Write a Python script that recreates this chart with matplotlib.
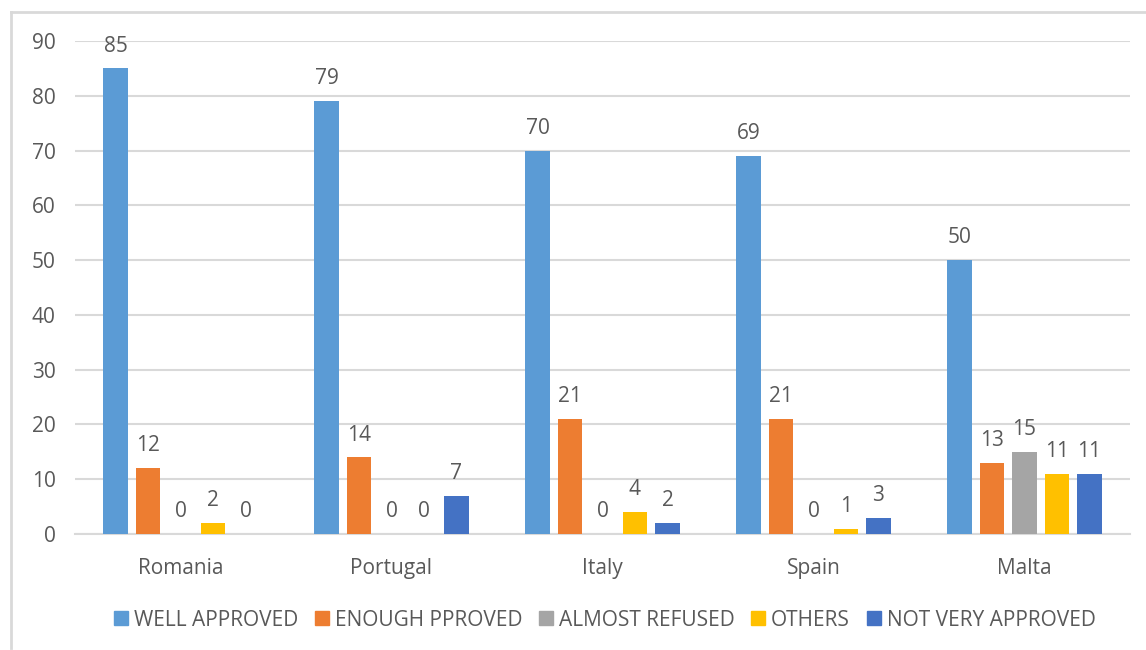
import matplotlib
matplotlib.use("Agg")
import matplotlib.pyplot as plt
from matplotlib.lines import Line2D
import numpy as np

categories = ["Romania", "Portugal", "Italy", "Spain", "Malta"]
series_names = ["WELL APPROVED", "ENOUGH PPROVED", "ALMOST REFUSED", "OTHERS", "NOT VERY APPROVED"]
well_approved = [85, 79, 70, 69, 50]
enough_approved = [12, 14, 21, 21, 13]
almost_refused = [0, 0, 0, 0, 15]
others = [2, 0, 4, 1, 11]
not_very_approved = [0, 7, 2, 3, 11]
y_ticks = [0, 10, 20, 30, 40, 50, 60, 70, 80, 90]

series_values = [well_approved, enough_approved, almost_refused, others, not_very_approved]
colors = ["#5B9BD5", "#ED7D31", "#A5A5A5", "#FFC000", "#4472C4"]

plt.rcParams['font.family'] = ['Open Sans', 'DejaVu Sans']
text_color = "#595959"
fs = 15

fig = plt.figure(figsize=(11.46, 6.5), dpi=100)
ax = fig.add_axes([75/1146, 1-534/650, (1130-75)/1146, (534-41)/650])

x = np.arange(len(categories))
w = 0.118
pitch = 0.154
for i, (vals, col) in enumerate(zip(series_values, colors)):
    off = (i - 2) * pitch
    ax.bar(x + off, vals, width=w, color=col, label=series_names[i], zorder=3)
    for xi, v in zip(x + off, vals):
        ax.annotate(str(v), (xi, v), xytext=(0, 8.5), textcoords="offset points",
                    ha="center", va="bottom", fontsize=fs, color=text_color)

ax.set_xlim(-0.5, len(categories) - 0.5)
ax.set_ylim(0, 90)
ax.set_yticks(y_ticks)
ax.set_xticks(x)
ax.set_xticklabels(categories)
ax.tick_params(axis='both', length=0, labelsize=fs, labelcolor=text_color)
ax.tick_params(axis='y', pad=14)
ax.tick_params(axis='x', pad=17)
ax.grid(axis='y', color="#D9D9D9", linewidth=1.5, zorder=0)
for s in ["top", "right", "left"]:
    ax.spines[s].set_visible(False)
ax.spines["bottom"].set_color("#D9D9D9")
ax.spines["bottom"].set_linewidth(1.5)

handles = [Line2D([0], [0], marker='s', linestyle='None', markersize=9.5,
                  markerfacecolor=c, markeredgecolor=c) for c in colors]
fig.legend(handles, series_names, loc="center", bbox_to_anchor=(605/1146, 1-620/650),
           ncol=5, frameon=False, fontsize=fs, labelcolor=text_color,
           handletextpad=0.3, columnspacing=0.8, handlelength=0.65)

# outer chart border (top and left visible)
fig.add_artist(Line2D([11/1146, 11/1146], [1-12/650, 1-648/650], color="#D9D9D9", linewidth=2,
                      transform=fig.transFigure))
fig.add_artist(Line2D([11/1146, 1.0], [1-12/650, 1-12/650], color="#D9D9D9", linewidth=2,
                      transform=fig.transFigure))

fig.savefig("out.png", dpi=100)
